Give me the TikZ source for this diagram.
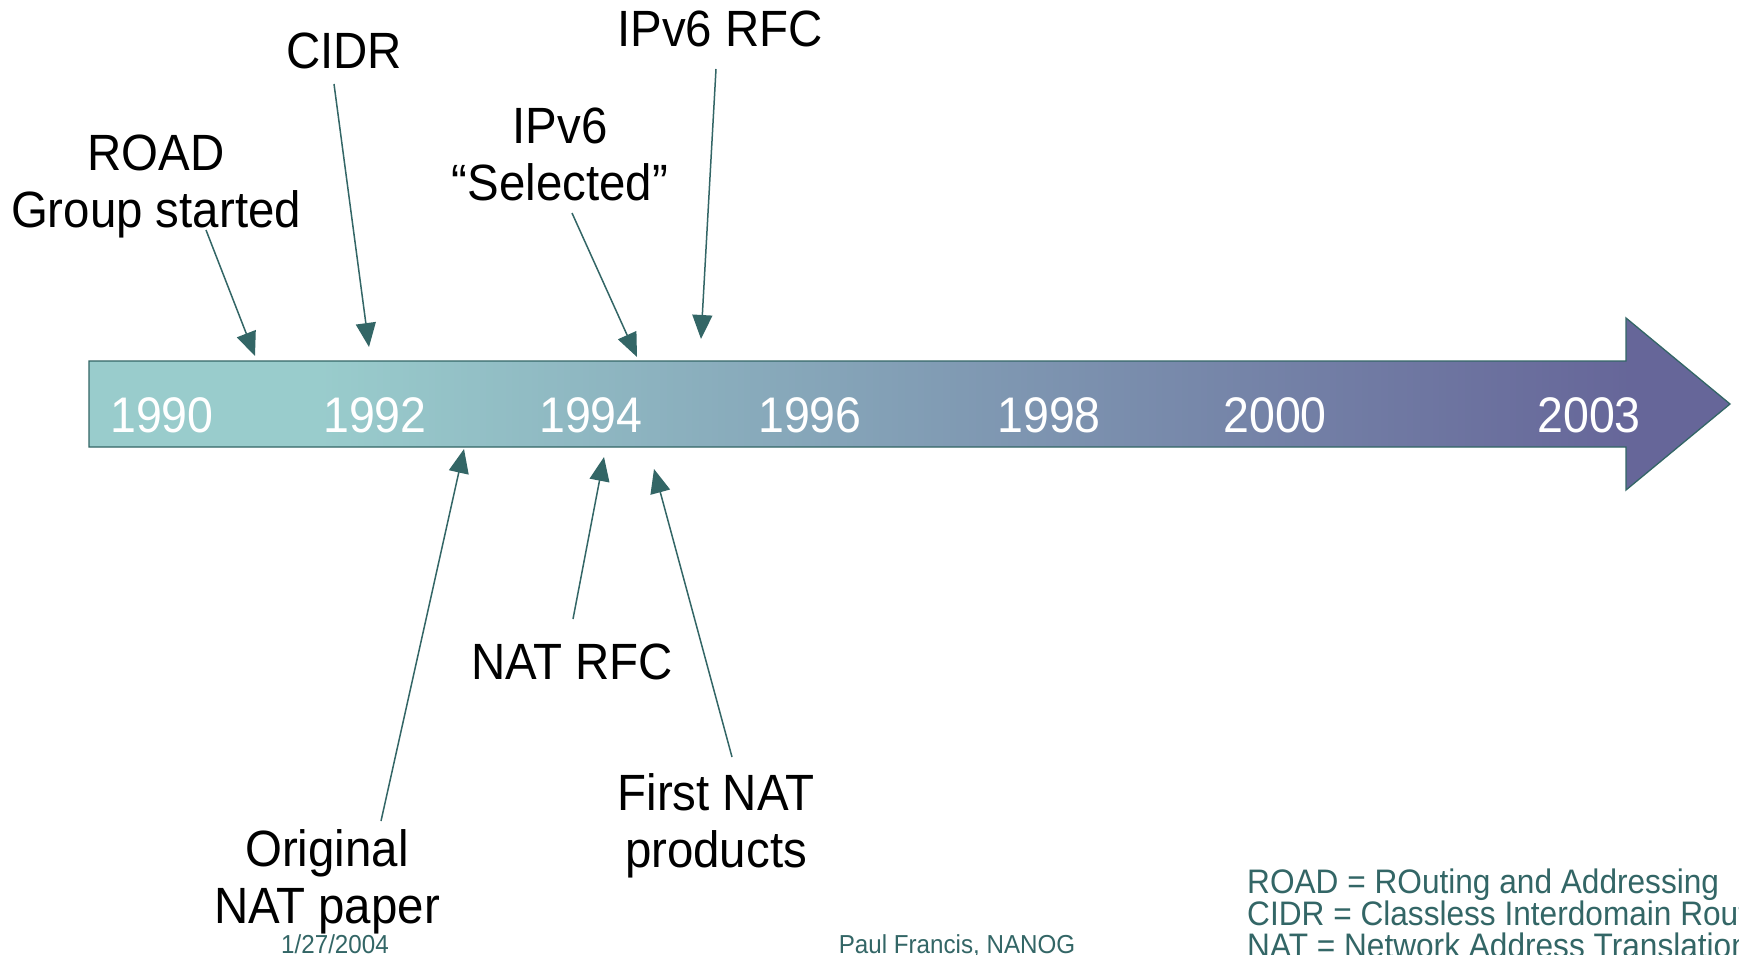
\documentclass[tikz,border=0pt]{standalone}
\usepackage{fontspec}
\setmainfont[FakeStretch=0.93]{Liberation Sans}
\usetikzlibrary{arrows.meta}
\definecolor{tealdk}{HTML}{336666}
\definecolor{cA}{HTML}{99CCCC}
\definecolor{cB}{HTML}{666699}
\pgfdeclarehorizontalshading{timeline}{100bp}{color(0bp)=(cA); color(32bp)=(cA); color(72bp)=(cB); color(100bp)=(cB)}
\begin{document}
\begin{tikzpicture}[x=1pt,y=-1pt,
  lbl/.style={font=\fontsize{51}{56.5}\selectfont, align=center, inner sep=0pt, anchor=base},
  yr/.style={font=\fontsize{50}{56}\selectfont, text=white, inner sep=0pt, anchor=base},
  note/.style={font=\fontsize{34}{32}\selectfont, text=tealdk, inner sep=0pt, anchor=base west},
  foot/.style={font=\fontsize{26}{28}\selectfont, text=tealdk, inner sep=0pt, anchor=base},
  conn/.style={draw=tealdk, line width=1.5pt, -{Triangle[length=24pt,width=20pt]}, tealdk}]
\useasboundingbox (0,0) rectangle (1739,955);
\fill[white] (0,0) rectangle (1739,955);
% timeline arrow
\shade[shading=timeline] (89,361) -- (1626,361) -- (1626,318) -- (1730,404) -- (1626,490) -- (1626,447) -- (89,447) -- cycle;
\draw[tealdk, line width=1.3pt] (89,361) -- (1626,361) -- (1626,318) -- (1730,404) -- (1626,490) -- (1626,447) -- (89,447) -- cycle;
% years
\node[yr] (y1990) at (162,432) {1990};
\node[yr] (y1992) at (375,432) {1992};
\node[yr] (y1994) at (591,432) {1994};
\node[yr] (y1996) at (810,432) {1996};
\node[yr] (y1998) at (1049,432) {1998};
\node[yr] (y2000) at (1275,432) {2000};
\node[yr] (y2003) at (1589,432) {2003};
% labels (base anchor = baseline of last line)
\node[lbl] (road) at (156,227) {ROAD\\Group started};
\node[lbl] (cidr) at (344,69) {CIDR};
\node[lbl] (sel) at (560,200) {IPv6\\“Selected”};
\node[lbl] (rfc6) at (720,46.6) {IPv6 RFC};
\node[lbl] (natrfc) at (572,679) {NAT RFC};
\node[lbl] (first) at (716,867) {First NAT\\products};
\node[lbl] (orig) at (327,923) {Original\\NAT paper};
% connector ends
\coordinate (s1) at (206,230); \coordinate (t1) at (255,356);
\coordinate (s2) at (334,84);  \coordinate (t2) at (369,347);
\coordinate (s3) at (572,213); \coordinate (t3) at (637,357);
\coordinate (s4) at (716,69);  \coordinate (t4) at (701,339);
\coordinate (s5) at (381,821); \coordinate (t5) at (464,449);
\coordinate (s6) at (573,619); \coordinate (t6) at (604,457);
\coordinate (s7) at (732,757); \coordinate (t7) at (654,469);
\draw[conn] (s1) -- (t1);
\draw[conn] (s2) -- (t2);
\draw[conn] (s3) -- (t3);
\draw[conn] (s4) -- (t4);
\draw[conn] (s5) -- (t5);
\draw[conn] (s6) -- (t6);
\draw[conn] (s7) -- (t7);
% notes
\node[note] (n1) at (1247,893) {ROAD = ROuting and Addressing};
\node[note] (n2) at (1247,925) {CIDR = Classless Interdomain Routing};
\node[note] (n3) at (1247,957) {NAT = Network Address Translation};
% footer
\node[foot] (date) at (335,953) {1/27/2004};
\node[foot] (auth) at (957,953) {Paul Francis, NANOG};
\end{tikzpicture}
\end{document}
